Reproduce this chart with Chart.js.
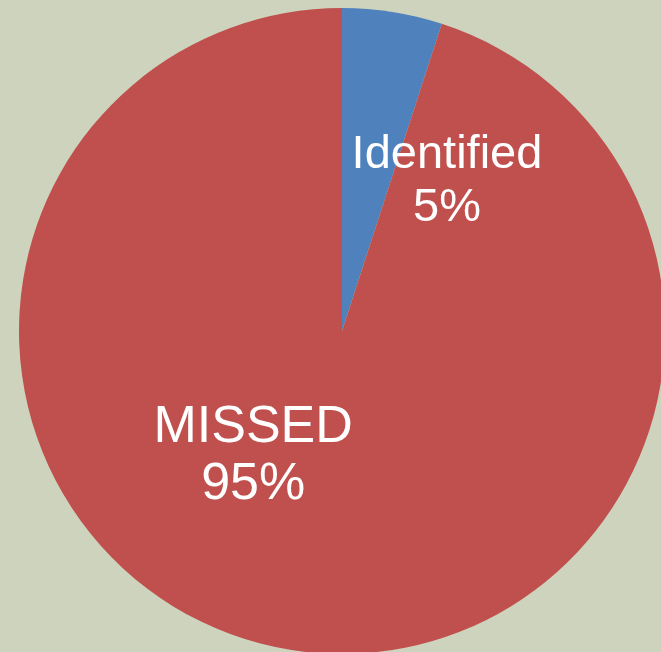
<!DOCTYPE html>
<html>
<head>
<meta charset="utf-8">
<script src="https://cdn.jsdelivr.net/npm/chart.js@4"></script>
<style>
  html, body { margin: 0; padding: 0; background: #CDD3BC; overflow: hidden; width: 661px; height: 652px; }
  #wrap { position: absolute; left: 19px; top: 8px; width: 646px; height: 646px; }
</style>
</head>
<body>
<div id="wrap"><canvas id="pie" width="646" height="646"></canvas></div>
<script>
// data
const labels = ['Identified', 'MISSED'];
const values = [5, 95];
const colors = ['#4F81BD', '#C0504D'];
// label placement, as fraction of radius from pie centre
const labelPos = [[0.325, -0.505], [-0.275, 0.345]];
const labelFont = [47, 52];
const lineGap = [1.13, 1.08];

const pieLabels = {
  id: 'pieLabels',
  afterDatasetsDraw(chart) {
    const ctx = chart.ctx;
    const meta = chart.getDatasetMeta(0);
    const total = values.reduce((a, b) => a + b, 0);
    meta.data.forEach((arc, i) => {
      const r = arc.outerRadius;
      const x = arc.x + labelPos[i][0] * r;
      const y = arc.y + labelPos[i][1] * r;
      const size = labelFont[i];
      ctx.save();
      ctx.fillStyle = '#fff';
      ctx.textAlign = 'center';
      ctx.textBaseline = 'alphabetic';
      ctx.font = size + 'px "Liberation Sans", Arial, sans-serif';
      ctx.fillText(labels[i], x, y);
      ctx.fillText(Math.round(values[i] / total * 100) + '%', x, y + size * lineGap[i]);
      ctx.restore();
    });
  }
};

new Chart(document.getElementById('pie').getContext('2d'), {
  type: 'pie',
  data: { labels: labels, datasets: [{ data: values, backgroundColor: colors, borderWidth: 0, hoverOffset: 0, offset: 0 }] },
  options: {
    responsive: false, animation: false,
    layout: { padding: 0 },
    plugins: { legend: { display: false }, tooltip: { enabled: false } }
  },
  plugins: [pieLabels]
});
</script>
</body>
</html>
